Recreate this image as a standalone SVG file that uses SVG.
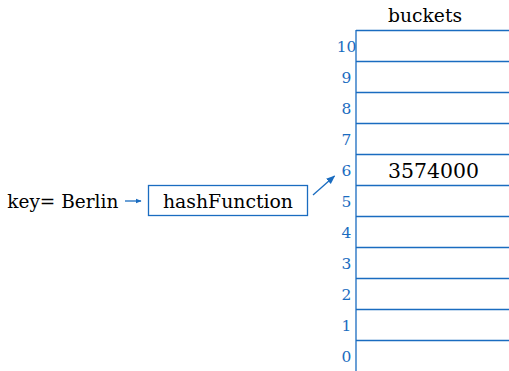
<svg xmlns="http://www.w3.org/2000/svg" width="509" height="371" viewBox="0 0 509 371">
<style>
.t{font-family:"DejaVu Serif",serif;fill:#000}
.n{font-family:"DejaVu Serif",serif;fill:#1a6cc0;font-size:15.5px;text-anchor:middle}
.l{stroke:#1a6cc0;stroke-width:1.3;fill:none}
</style>
<defs>
<marker id="ah" viewBox="0 0 10 10" refX="9" refY="5" markerWidth="6" markerHeight="6" orient="auto" markerUnits="userSpaceOnUse">
<path d="M0,1 L10,5 L0,9 z" fill="#1a6cc0"/>
</marker>
<marker id="ah2" viewBox="0 0 10 10" refX="9" refY="5" markerWidth="9" markerHeight="9" orient="auto" markerUnits="userSpaceOnUse">
<path d="M0,1 L10,5 L0,9 z" fill="#1a6cc0"/>
</marker>
</defs>
<rect width="509" height="371" fill="#fff"/>
<g id="key"><text class="t" x="7.3" y="207.5" font-size="18.5" textLength="111" lengthAdjust="spacingAndGlyphs">key= Berlin</text></g>
<g id="hashFunction">
<rect class="l" x="148.5" y="185.5" width="159" height="30"/>
<text class="t" x="163" y="208" font-size="18.5" textLength="130" lengthAdjust="spacingAndGlyphs">hashFunction</text>
</g>
<g id="buckets">
<text class="t" x="388" y="22" font-size="18.5" textLength="74" lengthAdjust="spacingAndGlyphs">buckets</text>
<path class="l" d="M356,30 V371 M356,30.5 H509 M356,61.5 H509 M356,92.5 H509 M356,123.5 H509 M356,154.5 H509 M356,185.5 H509 M356,216.5 H509 M356,247.5 H509 M356,278.5 H509 M356,309.5 H509 M356,340.5 H509"/>
<text class="n" x="346.5" y="51.5">10</text>
<text class="n" x="346.5" y="82.5">9</text>
<text class="n" x="346.5" y="113.5">8</text>
<text class="n" x="346.5" y="144.5">7</text>
<text class="n" x="346.5" y="175.5">6</text>
<text class="n" x="346.5" y="206.5">5</text>
<text class="n" x="346.5" y="237.5">4</text>
<text class="n" x="346.5" y="268.5">3</text>
<text class="n" x="346.5" y="299.5">2</text>
<text class="n" x="346.5" y="330.5">1</text>
<text class="n" x="346.5" y="361.5">0</text>
<text class="t" x="388" y="178" font-size="20.5" textLength="91" lengthAdjust="spacingAndGlyphs">3574000</text>
</g>
<g id="connectors">
<line class="l" x1="125" y1="201" x2="141" y2="201" stroke-width="1" marker-end="url(#ah)"/>
<line class="l" x1="313" y1="195" x2="334.5" y2="176" marker-end="url(#ah2)"/>
</g>
</svg>
